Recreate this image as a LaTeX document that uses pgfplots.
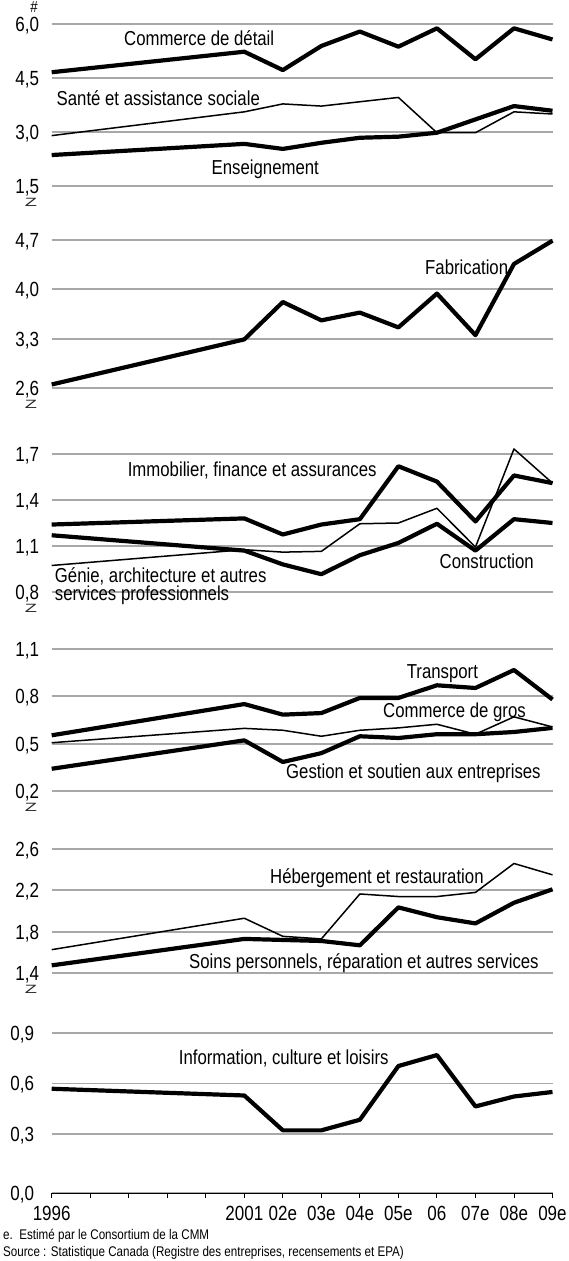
\documentclass[border=0pt]{standalone}
\usepackage{fontspec}
\setmainfont{Liberation Sans}[FakeStretch=0.83]
\usepackage{pgfplots}
\usepackage{pgfplotstable}
\pgfplotsset{compat=1.18}

\definecolor{gridgray}{HTML}{A8A8A8}

% one table per panel, years on x
\pgfplotstableread{
year commerce sante enseign
1996 4.66 2.90 2.36
2001 5.23 3.56 2.67
2002 4.72 3.78 2.53
2003 5.39 3.72 2.70
2004 5.79 3.84 2.84
2005 5.37 3.96 2.87
2006 5.88 2.98 2.98
2007 5.02 2.98 3.35
2008 5.88 3.56 3.72
2009 5.57 3.50 3.59
}\panelA
\pgfplotstableread{
year fabric
1996 2.65
2001 3.29
2002 3.82
2003 3.56
2004 3.67
2005 3.46
2006 3.94
2007 3.35
2008 4.36
2009 4.69
}\panelB
\pgfplotstableread{
year immo constr genie
1996 1.240 1.170 0.973
2001 1.280 1.070 1.076
2002 1.175 0.980 1.060
2003 1.240 0.916 1.065
2004 1.275 1.040 1.245
2005 1.620 1.120 1.250
2006 1.520 1.245 1.346
2007 1.260 1.070 1.093
2008 1.560 1.275 1.733
2009 1.510 1.250 1.510
}\panelC
\pgfplotstableread{
year transp gros gestion
1996 0.553 0.506 0.341
2001 0.751 0.597 0.521
2002 0.684 0.585 0.384
2003 0.694 0.547 0.440
2004 0.790 0.585 0.547
2005 0.790 0.600 0.536
2006 0.870 0.623 0.560
2007 0.853 0.560 0.560
2008 0.967 0.670 0.574
2009 0.780 0.606 0.600
}\panelD
\pgfplotstableread{
year heberg soins
1996 1.626 1.474
2001 1.930 1.730
2002 1.755 1.720
2003 1.730 1.710
2004 2.165 1.668
2005 2.140 2.035
2006 2.140 1.940
2007 2.180 1.880
2008 2.460 2.080
2009 2.350 2.210
}\panelE
\pgfplotstableread{
year info
1996 0.569
2001 0.529
2002 0.322
2003 0.322
2004 0.385
2005 0.704
2006 0.769
2007 0.464
2008 0.523
2009 0.550
}\panelF

\pgfplotsset{
  panel/.style={
    scale only axis, width=500.8pt,
    xmin=1996, xmax=2009,
    axis line style={draw=none},
    tick style={draw=none},
    xtick=\empty,
    ymajorgrids,
    grid style={gridgray, line width=1.8pt},
    clip=false,
    tick label style={font=\fontsize{20.5}{24}\selectfont},
    yticklabel style={anchor=east, inner sep=0pt, xshift=-12.5pt,
      text height=14.7pt, text depth=0pt},
    /pgf/number format/use comma,
    /pgf/number format/fixed,
    /pgf/number format/fixed zerofill,
    /pgf/number format/precision=1,
    /pgf/number format/assume math mode=true,
  },
  thick line/.style={black, line width=4.2pt, line join=round},
  thin line/.style={black, line width=1.5pt, line join=round},
}

\tikzset{
  lab/.style={anchor=west, inner sep=0pt, text height=14.3pt, text depth=0pt,
    font=\fontsize{20.2}{24}\selectfont},
  brk/.style={inner sep=0pt, font=\fontsize{24}{24}\selectfont, black!85},
}
\newcommand{\brk}{\scalebox{1.0}[0.5]{Z}}

\begin{document}
\begin{tikzpicture}
\useasboundingbox (0,0) rectangle (569pt,-1261pt);

% panel 1
\begin{axis}[panel, at={(51.7pt,-24pt)}, anchor=north west, height=162pt,
  ymin=1.5, ymax=6, ytick={1.5,3,4.5,6}]
\addplot[thin line] table[x=year,y=sante]{\panelA};
\addplot[thick line] table[x=year,y=commerce]{\panelA};
\addplot[thick line] table[x=year,y=enseign]{\panelA};
\end{axis}

% panel 2
\begin{axis}[panel, at={(51.7pt,-240pt)}, anchor=north west, height=148pt,
  ymin=2.6, ymax=4.7, ytick={2.6,3.3,4.0,4.7}]
\addplot[thick line] table[x=year,y=fabric]{\panelB};
\end{axis}

% panel 3
\begin{axis}[panel, at={(51.7pt,-454pt)}, anchor=north west, height=138pt,
  ymin=0.8, ymax=1.7, ytick={0.8,1.1,1.4,1.7}]
\addplot[thin line] table[x=year,y=genie]{\panelC};
\addplot[thick line] table[x=year,y=immo]{\panelC};
\addplot[thick line] table[x=year,y=constr]{\panelC};
\end{axis}

% panel 4
\begin{axis}[panel, at={(51.7pt,-649pt)}, anchor=north west, height=142pt,
  ymin=0.2, ymax=1.1, ytick={0.2,0.5,0.8,1.1}]
\addplot[thin line] table[x=year,y=gros]{\panelD};
\addplot[thick line] table[x=year,y=transp]{\panelD};
\addplot[thick line] table[x=year,y=gestion]{\panelD};
\end{axis}

% panel 5
\begin{axis}[panel, at={(51.7pt,-849pt)}, anchor=north west, height=124pt,
  ymin=1.4, ymax=2.6, ytick={1.4,1.8,2.2,2.6}]
\addplot[thin line] table[x=year,y=heberg]{\panelE};
\addplot[thick line] table[x=year,y=soins]{\panelE};
\end{axis}

% panel 6, carries the year axis
\begin{axis}[panel, at={(51.7pt,-1033pt)}, anchor=north west, height=160pt,
  ymin=-0.05, ymax=0.9, ytick={-0.05,0.3,0.6,0.9},
  yticklabels={{0,0},{0,3},{0,6},{0,9}},
  extra y ticks={-0.05}, extra y tick labels={},
  extra y tick style={grid style={black, line width=0.8pt}},
  xtick={1996,...,2009},
  xticklabels={1996,,,,,2001,02e,03e,04e,05e,06,07e,08e,09e},
  xtick pos=lower, tick align=outside, major tick length=5pt,
  xtick style={draw=black, line width=0.8pt},
  xticklabel style={anchor=north, inner sep=0pt, yshift=-8pt,
    text height=14.7pt, text depth=0pt},
]
\addplot[thick line] table[x=year,y=info]{\panelF};
\end{axis}

% series names
\node[lab] at (124pt,-38.3pt) {Commerce de détail};
\node[lab] at (56.5pt,-98.3pt) {Santé et assistance sociale};
\node[lab] at (211.5pt,-167.5pt) {Enseignement};
\node[lab] at (425pt,-267.5pt) {Fabrication};
\node[lab] at (127.6pt,-469pt) {Immobilier, finance et assurances};
\node[lab] at (54.7pt,-575pt) {Génie, architecture et autres};
\node[lab] at (54.7pt,-593pt) {services professionnels};
\node[lab] at (439.5pt,-561pt) {Construction};
\node[lab] at (406.6pt,-671pt) {Transport};
\node[lab] at (383pt,-710pt) {Commerce de gros};
\node[lab] at (286pt,-771.7pt) {Gestion et soutien aux entreprises};
\node[lab] at (270pt,-876.7pt) {Hébergement et restauration};
\node[lab] at (189pt,-961pt) {Soins personnels, réparation et autres services};
\node[lab] at (178.7pt,-1057.5pt) {Information, culture et loisirs};

% axis break marks
\foreach \yy in {202,404,608,807,989}
  \node[brk] at (31pt,-\yy pt) {\brk};

% unit
\node[anchor=base, inner sep=0pt, font=\fontsize{16}{16}\selectfont] at (34pt,-12pt) {\#};

% notes
\node[anchor=west, inner sep=0pt, font=\fontsize{14}{16}\selectfont] at (3pt,-1236pt)
  {e.\ \ Estimé par le Consortium de la CMM};
\node[anchor=west, inner sep=0pt, font=\fontsize{14}{16}\selectfont] at (3pt,-1253pt)
  {Source : Statistique Canada (Registre des entreprises, recensements et EPA)};
\end{tikzpicture}
\end{document}
